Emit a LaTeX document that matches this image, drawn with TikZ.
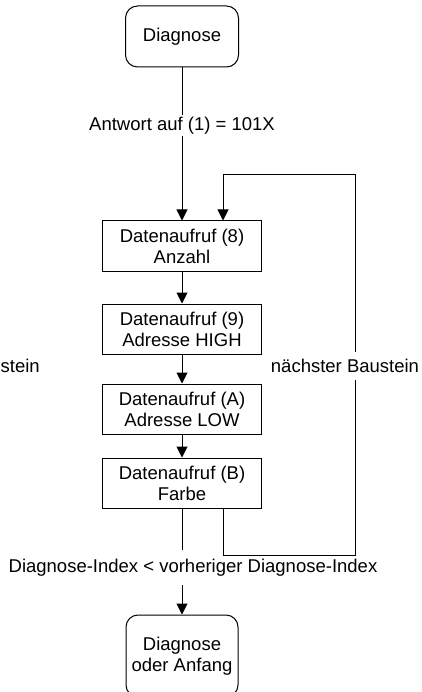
\documentclass[tikz,border=0pt]{standalone}
\usepackage{fontspec}
\setmainfont{Liberation Sans}
\usetikzlibrary{calc, arrows.meta, positioning}

\begin{document}
\begin{tikzpicture}[x=1pt, y=-1pt, >={Triangle[length=11pt, width=11pt]},
    font=\fontsize{18.5}{21}\selectfont,
    term/.style={draw, line width=1pt, rounded corners=12pt, align=center,
                 minimum width=113pt, minimum height=61pt},
    box/.style={draw, line width=1pt, align=center, minimum width=159pt,
                minimum height=50pt, inner sep=2pt},
    lbl/.style={fill=white, inner xsep=1pt, inner ysep=3pt},
    arr/.style={->, line width=1pt}
  ]
  \clip (0,0) rectangle (422,692);

  \node[term] (diag) at (182,36.5) {Diagnose};
  \node[box, below=153pt of diag] (anz) {Datenaufruf (8)\\Anzahl};
  \node[box, below=32pt of anz]  (adh) {Datenaufruf (9)\\Adresse HIGH};
  \node[box, below=29pt of adh]  (adl) {Datenaufruf (A)\\Adresse LOW};
  \node[box, below=23pt of adl]  (fb)  {Datenaufruf (B)\\Farbe};
  \node[term, minimum width=112pt, minimum height=82pt,
        below=106pt of fb] (ende) {Diagnose\\oder Anfang};

  \draw[arr] (diag) -- node[lbl, pos=0.38, inner ysep=2pt] {Antwort auf (1) = 101X} (anz);
  \draw[arr] (anz) -- (adh);
  \draw[arr] (adh) -- (adl);
  \draw[arr] (adl) -- (fb);
  \draw[arr] (fb) -- node[lbl, pos=0.557, inner ysep=9pt, xshift=11pt]
    {Diagnose-Index < vorheriger Diagnose-Index} (ende);

  % Schleife zum naechsten Baustein
  \coordinate (lb) at ($(fb.south)+(41pt,-47pt)$);
  \coordinate (rt) at ($(anz.north)+(173pt,46pt)$);
  \draw[arr] ([xshift=41pt]fb.south) -- (lb) -| (rt) -| ([xshift=41pt]anz.north);
  \node[lbl, inner ysep=7pt] (nbr) at (345,366) {nächster Baustein};
  \node[lbl, anchor=east] (nbl) at (41,366) {nächster Baustein};
\end{tikzpicture}
\end{document}
